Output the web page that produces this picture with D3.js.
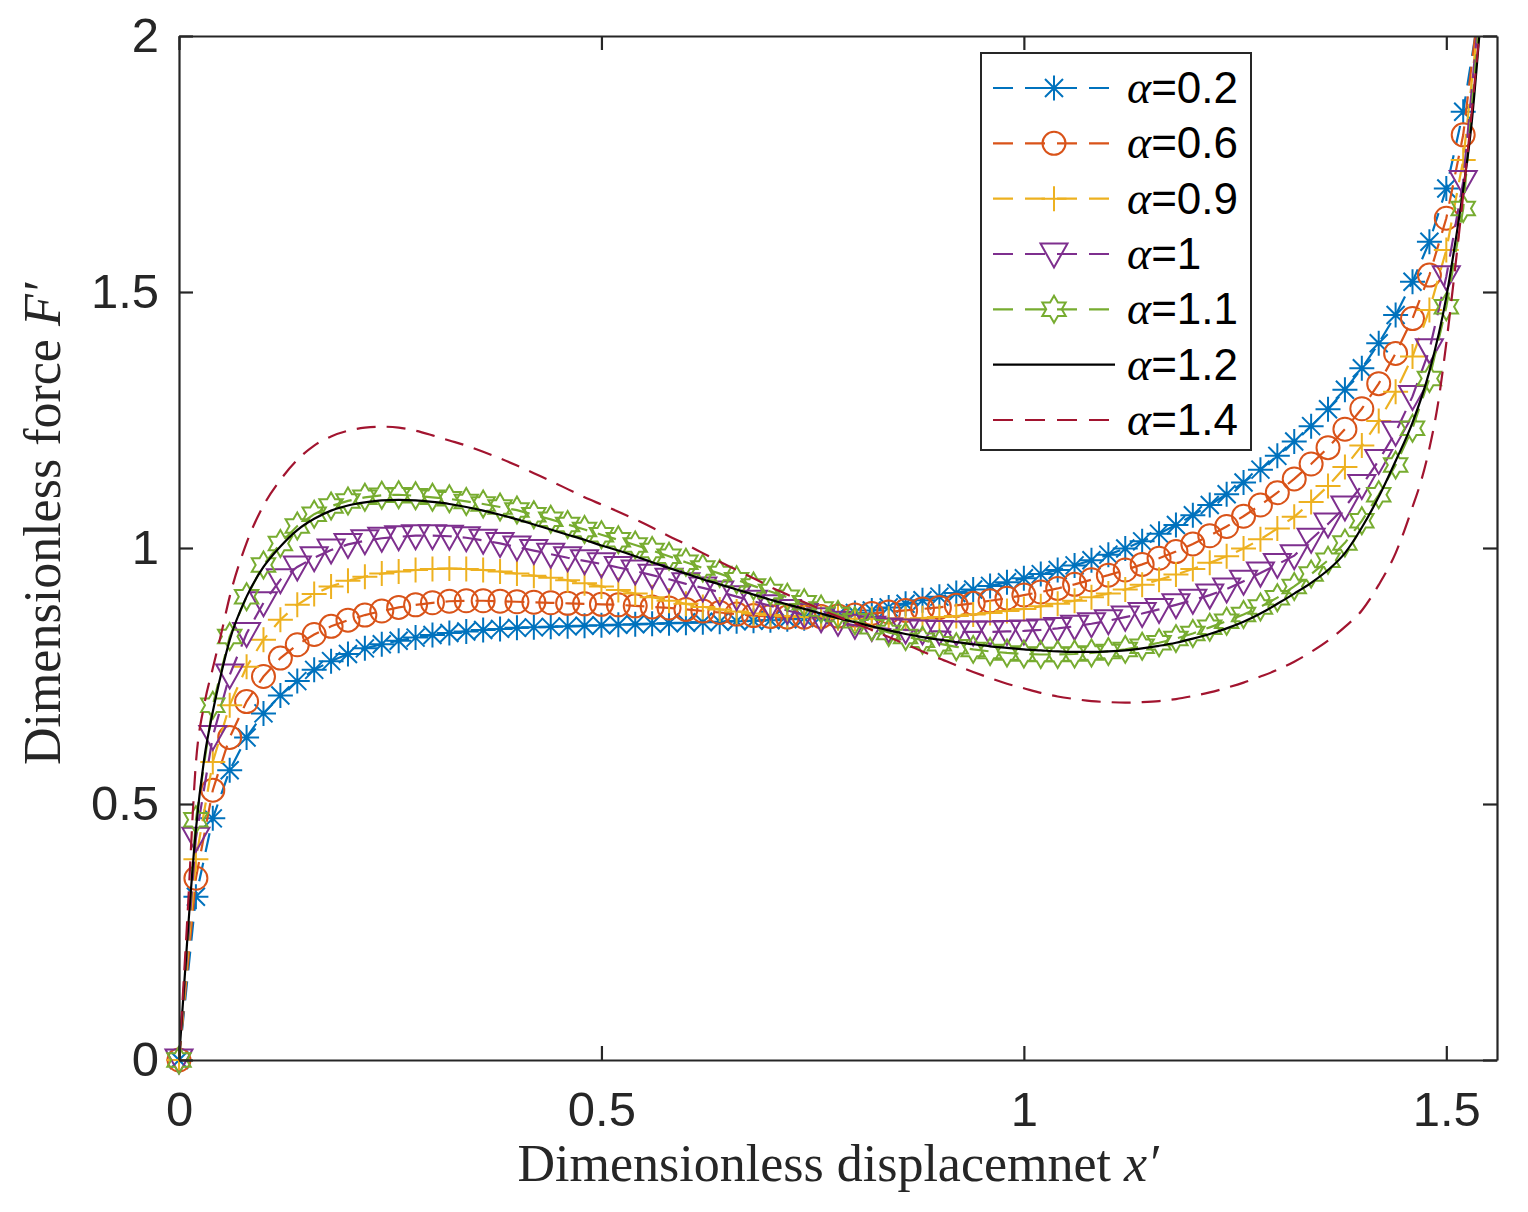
<!DOCTYPE html>
<html><head><meta charset="utf-8">
<script src="https://cdn.jsdelivr.net/npm/d3@7"></script>
<style>body{margin:0;background:#fff} svg{display:block}</style>
</head><body>
<svg id="chart" width="1528" height="1212"></svg>
<script>
// ---------------- data ----------------
const xGrid = [0,0.02,0.04,0.06,0.08,0.1,0.12,0.14,0.16,0.18,0.2,0.22,0.24,0.26,0.28,0.3,0.32,0.34,0.36,0.38,0.4,0.42,0.44,0.46,0.48,0.5,0.52,0.54,0.56,0.58,0.6,0.62,0.64,0.66,0.68,0.7,0.72,0.74,0.76,0.78,0.8,0.82,0.84,0.86,0.88,0.9,0.92,0.94,0.96,0.98,1,1.02,1.04,1.06,1.08,1.1,1.12,1.14,1.16,1.18,1.2,1.22,1.24,1.26,1.28,1.3,1.32,1.34,1.36,1.38,1.4,1.42,1.44,1.46,1.48,1.5,1.52,1.54];

const alpha02 = [0,0.319,0.472,0.566,0.630,0.677,0.712,0.740,0.762,0.779,0.793,0.804,0.812,0.819,0.825,0.830,0.834,0.837,0.840,0.842,0.844,0.845,0.846,0.847,0.848,0.849,0.850,0.851,0.852,0.853,0.854,0.855,0.856,0.857,0.858,0.859,0.861,0.863,0.866,0.869,0.873,0.878,0.884,0.891,0.898,0.905,0.912,0.919,0.926,0.933,0.941,0.949,0.957,0.966,0.976,0.987,0.999,1.013,1.028,1.045,1.064,1.084,1.105,1.128,1.153,1.180,1.208,1.238,1.271,1.309,1.351,1.400,1.455,1.520,1.598,1.702,1.852,2.060];

const alpha06 = [0,0.355,0.527,0.630,0.700,0.749,0.785,0.811,0.831,0.847,0.859,0.869,0.877,0.884,0.889,0.893,0.896,0.897,0.897,0.896,0.895,0.894,0.893,0.892,0.891,0.890,0.889,0.887,0.885,0.883,0.880,0.877,0.874,0.871,0.868,0.866,0.865,0.865,0.866,0.867,0.869,0.872,0.875,0.878,0.881,0.884,0.888,0.892,0.897,0.902,0.908,0.914,0.921,0.929,0.938,0.947,0.957,0.968,0.980,0.993,1.008,1.024,1.042,1.062,1.084,1.108,1.135,1.164,1.196,1.232,1.272,1.321,1.380,1.448,1.533,1.644,1.807,2.080];

const alpha09 = [0,0.392,0.582,0.693,0.768,0.821,0.860,0.889,0.910,0.925,0.936,0.944,0.950,0.954,0.957,0.959,0.960,0.959,0.957,0.954,0.950,0.946,0.942,0.937,0.931,0.925,0.918,0.911,0.904,0.897,0.891,0.885,0.880,0.876,0.872,0.869,0.867,0.865,0.864,0.863,0.862,0.862,0.862,0.862,0.863,0.865,0.867,0.870,0.873,0.877,0.881,0.886,0.891,0.897,0.904,0.911,0.919,0.928,0.938,0.948,0.959,0.971,0.984,0.999,1.017,1.038,1.061,1.090,1.121,1.158,1.200,1.248,1.305,1.374,1.465,1.582,1.758,2.060];

const alpha10 = [0,0.433,0.632,0.752,0.833,0.893,0.938,0.963,0.981,0.996,1.007,1.014,1.019,1.022,1.024,1.024,1.023,1.020,1.015,1.009,1.002,0.995,0.988,0.981,0.975,0.969,0.962,0.955,0.947,0.939,0.930,0.922,0.914,0.905,0.896,0.887,0.878,0.870,0.862,0.855,0.849,0.845,0.842,0.840,0.838,0.837,0.836,0.836,0.836,0.837,0.838,0.840,0.843,0.847,0.852,0.858,0.865,0.872,0.880,0.889,0.898,0.908,0.920,0.935,0.951,0.968,0.985,1.017,1.047,1.080,1.122,1.171,1.226,1.296,1.387,1.530,1.716,2.070];

const alpha11 = [0,0.469,0.693,0.827,0.905,0.967,1.009,1.043,1.066,1.082,1.092,1.099,1.103,1.104,1.102,1.099,1.096,1.091,1.086,1.080,1.074,1.065,1.056,1.046,1.036,1.026,1.016,1.006,0.995,0.984,0.972,0.961,0.950,0.938,0.926,0.915,0.904,0.893,0.881,0.870,0.858,0.846,0.835,0.827,0.820,0.813,0.807,0.802,0.798,0.795,0.793,0.792,0.792,0.793,0.795,0.798,0.802,0.808,0.815,0.823,0.833,0.845,0.857,0.870,0.885,0.903,0.925,0.949,0.976,1.010,1.053,1.104,1.162,1.234,1.331,1.471,1.663,2.050];

const xAlpha12 = [0,0.01,0.02,0.03,0.04,0.05,0.06,0.08,0.1,0.12,0.14,0.16,0.18,0.2,0.22,0.24,0.26,0.28,0.3,0.32,0.34,0.36,0.38,0.4,0.42,0.44,0.46,0.48,0.5,0.52,0.54,0.56,0.58,0.6,0.62,0.64,0.66,0.68,0.7,0.72,0.74,0.76,0.78,0.8,0.82,0.84,0.86,0.88,0.9,0.92,0.94,0.96,0.98,1,1.02,1.04,1.06,1.08,1.1,1.12,1.14,1.16,1.18,1.2,1.22,1.24,1.26,1.28,1.3,1.32,1.34,1.36,1.38,1.4,1.42,1.44,1.46,1.48,1.5,1.51,1.52,1.53,1.54];
const alpha12 = [0,0.24,0.45,0.59,0.68,0.755,0.82,0.905,0.963,1.003,1.035,1.057,1.073,1.083,1.089,1.093,1.094,1.093,1.090,1.086,1.080,1.073,1.065,1.056,1.046,1.036,1.026,1.016,1.005,0.995,0.984,0.972,0.961,0.950,0.939,0.929,0.919,0.909,0.899,0.890,0.881,0.872,0.863,0.855,0.847,0.839,0.832,0.826,0.821,0.816,0.812,0.808,0.805,0.802,0.800,0.798,0.797,0.797,0.798,0.800,0.804,0.809,0.815,0.823,0.832,0.843,0.856,0.872,0.891,0.911,0.932,0.957,0.990,1.040,1.100,1.170,1.245,1.345,1.490,1.590,1.700,1.830,2.020];

const xAlpha14 = [0,0.01,0.02,0.03,0.04,0.05,0.06,0.08,0.1,0.12,0.14,0.16,0.18,0.2,0.22,0.24,0.26,0.28,0.3,0.32,0.34,0.36,0.38,0.4,0.42,0.44,0.46,0.48,0.5,0.52,0.54,0.56,0.58,0.6,0.62,0.64,0.66,0.68,0.7,0.72,0.74,0.76,0.78,0.8,0.82,0.84,0.86,0.88,0.9,0.92,0.94,0.96,0.98,1,1.02,1.04,1.06,1.08,1.1,1.12,1.14,1.16,1.18,1.2,1.22,1.24,1.26,1.28,1.3,1.32,1.34,1.36,1.38,1.4,1.42,1.44,1.46,1.47,1.48,1.49,1.5,1.51,1.52,1.53,1.54];
const alpha14 = [0,0.28,0.58,0.695,0.765,0.833,0.905,1.010,1.083,1.133,1.172,1.200,1.218,1.229,1.235,1.237,1.235,1.229,1.220,1.210,1.200,1.188,1.175,1.161,1.146,1.131,1.115,1.099,1.085,1.071,1.056,1.040,1.023,1.007,0.990,0.973,0.957,0.941,0.924,0.909,0.894,0.880,0.866,0.853,0.840,0.826,0.812,0.798,0.784,0.771,0.758,0.746,0.735,0.726,0.717,0.710,0.705,0.701,0.699,0.698,0.699,0.701,0.705,0.711,0.718,0.727,0.737,0.749,0.762,0.778,0.797,0.819,0.846,0.878,0.928,0.990,1.080,1.130,1.195,1.280,1.400,1.540,1.690,1.850,2.020];

const legendLabels = ["0.2","0.6","0.9","1","1.1","1.2","1.4"];
const xTicks = [0,0.5,1,1.5];
const yTicks = [0,0.5,1,1.5,2];
const xDomain = [0,1.56];
const yDomain = [0,2];

// ---------------- drawing ----------------
const svg = d3.select("#chart");
const M = {left:179, right:1497, top:36, bottom:1060};
const x = d3.scaleLinear().domain(xDomain).range([M.left, M.right]);
const y = d3.scaleLinear().domain(yDomain).range([M.bottom, M.top]);
const AX = "#262626";
const tickFont = "'Liberation Sans', Arial, sans-serif";
const serif = "'Liberation Serif', 'Times New Roman', serif";

svg.append("rect").attr("width",1528).attr("height",1212).attr("fill","#fff");

const series = [
  {lab:legendLabels[0], xs:xGrid, ys:alpha02, color:"#0072BD", marker:"asterisk", dash:true},
  {lab:legendLabels[1], xs:xGrid, ys:alpha06, color:"#D95319", marker:"circle", dash:true},
  {lab:legendLabels[2], xs:xGrid, ys:alpha09, color:"#EDB120", marker:"plus", dash:true},
  {lab:legendLabels[3], xs:xGrid, ys:alpha10, color:"#7E2F8E", marker:"tridown", dash:true},
  {lab:legendLabels[4], xs:xGrid, ys:alpha11, color:"#77AC30", marker:"hexagram", dash:true},
  {lab:legendLabels[5], xs:xAlpha12, ys:alpha12, color:"#000000", marker:null, dash:false, smooth:true},
  {lab:legendLabels[6], xs:xAlpha14, ys:alpha14, color:"#A2142F", marker:null, dash:true, smooth:true}
];

function markerPath(type){
  const s = 12.5;
  if(type==="asterisk"){ const d=9; return `M0,${-s}V${s}M${-s},0H${s}M${-d},${-d}L${d},${d}M${-d},${d}L${d},${-d}`; }
  if(type==="circle"){ const r=11.5; return `M${r},0A${r},${r},0,1,1,${-r},0A${r},${r},0,1,1,${r},0Z`; }
  if(type==="plus"){ return `M0,${-s}V${s}M${-s},0H${s}`; }
  if(type==="tridown"){ return `M-13.5,-10.5L13.5,-10.5L0,13.5Z`; }
  if(type==="hexagram"){
    const ro=13.5, ri=7.8;
    const pts = d3.range(12).map(i=>{ const a=-Math.PI/2 + i*Math.PI/6; const r = i%2===0?ro:ri; return [r*Math.cos(a), r*Math.sin(a)]; });
    return "M"+pts.map(p=>p[0].toFixed(2)+","+p[1].toFixed(2)).join("L")+"Z";
  }
  return "";
}

svg.append("defs").append("clipPath").attr("id","plotclip")
  .append("rect").attr("x",M.left).attr("y",M.top).attr("width",M.right-M.left).attr("height",M.bottom-M.top);

const plotG = svg.append("g");
series.forEach(sr=>{
  const pts = sr.xs.map((v,i)=>[v, sr.ys[i]]);
  const line = d3.line().x(d=>x(d[0])).y(d=>y(d[1])).curve(sr.smooth? d3.curveMonotoneX : d3.curveLinear);
  plotG.append("path").attr("clip-path","url(#plotclip)")
    .attr("d", line(pts)).attr("fill","none").attr("stroke",sr.color)
    .attr("stroke-width",2.2).attr("stroke-dasharray", sr.dash? "19,11" : null);
  if(sr.marker){
    const inside = pts.filter(d=>d[1]>=yDomain[0] && d[1]<=yDomain[1] && d[0]<=xDomain[1]);
    plotG.append("g").selectAll("path").data(inside).join("path")
      .attr("transform", d=>`translate(${x(d[0])},${y(d[1])})`)
      .attr("d", markerPath(sr.marker)).attr("fill","none")
      .attr("stroke", sr.color).attr("stroke-width",2);
  }
});

// axes (box with inward ticks on all sides)
function styleAxis(g){
  g.select(".domain").attr("stroke",AX).attr("stroke-width",2.2);
  g.selectAll(".tick line").attr("stroke",AX).attr("stroke-width",2.2);
  g.selectAll(".tick text").attr("fill","#262626").style("font-family",tickFont).style("font-size","49px");
}
svg.append("g").attr("transform",`translate(0,${M.bottom})`)
  .call(d3.axisBottom(x).tickValues(xTicks).tickSize(-14).tickSizeOuter(0).tickPadding(31).tickFormat(d=>String(d)))
  .call(styleAxis);
svg.append("g").attr("transform",`translate(0,${M.top})`)
  .call(d3.axisTop(x).tickValues(xTicks).tickSize(-14).tickSizeOuter(0).tickFormat(""))
  .call(styleAxis);
svg.append("g").attr("transform",`translate(${M.left},0)`)
  .call(d3.axisLeft(y).tickValues(yTicks).tickSize(-14).tickSizeOuter(0).tickPadding(20).tickFormat(d=>String(d)))
  .call(styleAxis);
svg.append("g").attr("transform",`translate(${M.right},0)`)
  .call(d3.axisRight(y).tickValues(yTicks).tickSize(-14).tickSizeOuter(0).tickFormat(""))
  .call(styleAxis);

// axis labels
const xl = svg.append("text").attr("x",(M.left+M.right)/2).attr("y",1181)
  .attr("text-anchor","middle").style("font-family",serif).style("font-size","52px").attr("fill","#262626");
xl.append("tspan").text("Dimensionless displacemnet ");
xl.append("tspan").style("font-style","italic").text("x\u2032");

const yl = svg.append("text").attr("transform","translate(60,524) rotate(-90)")
  .attr("text-anchor","middle").style("font-family",serif).style("font-size","52px").attr("fill","#262626");
yl.append("tspan").text("Dimensionless force ");
yl.append("tspan").style("font-style","italic").text("F\u2032");

// legend
const L = {x0:981, y0:53, x1:1251, y1:450};
const lg = svg.append("g");
lg.append("rect").attr("x",L.x0).attr("y",L.y0).attr("width",L.x1-L.x0).attr("height",L.y1-L.y0)
  .attr("fill","#fff").attr("stroke",AX).attr("stroke-width",2);
const rowY = d3.scaleLinear().domain([0,series.length-1]).range([88,420]);
series.forEach((sr,i)=>{
  const yy = rowY(i);
  lg.append("line").attr("x1",993).attr("x2",1115).attr("y1",yy).attr("y2",yy)
    .attr("stroke",sr.color).attr("stroke-width",2.2).attr("stroke-dasharray", sr.dash? "20,12":null);
  if(sr.marker){
    lg.append("path").attr("transform",`translate(1054,${yy})`).attr("d",markerPath(sr.marker))
      .attr("fill","none").attr("stroke",sr.color).attr("stroke-width",2);
  }
  const t = lg.append("text").attr("x",1127).attr("y",yy+15).style("font-size","44px").attr("fill","#000");
  t.append("tspan").style("font-family",serif).style("font-style","italic").style("font-size","46px").text("\u03b1");
  t.append("tspan").style("font-family",tickFont).text("="+sr.lab);
});
</script>
</body></html>
